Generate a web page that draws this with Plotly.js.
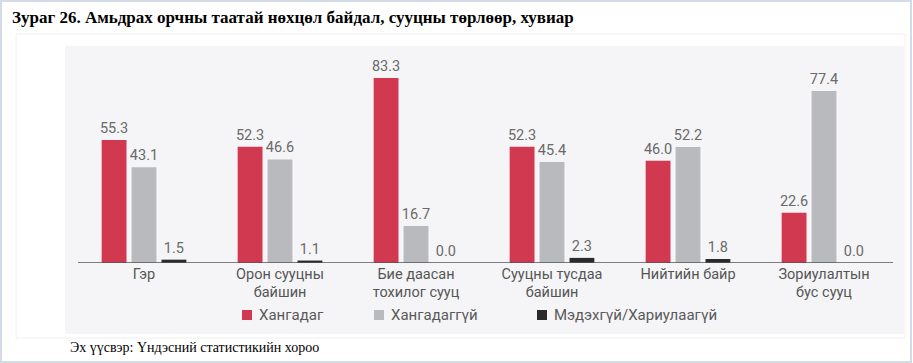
<!DOCTYPE html>
<html>
<head>
<meta charset="utf-8">
<script src="https://cdn.plot.ly/plotly-3.0.1.min.js"></script>
<style>html,body{margin:0;padding:0;background:#fff;}#chart{width:913px;height:363px;}</style>
</head>
<body>
<div id="chart"></div>
<script>
const categories = ["Гэр", "Орон сууцны<br>байшин", "Бие даасан<br>тохилог сууц", "Сууцны тусдаа<br>байшин", "Нийтийн байр", "Зориулалтын<br>бус сууц"];
const seriesNames = ["Хангадаг", "Хангадаггүй", "Мэдэхгүй/Хариулаагүй"];
const satisfied = [55.3, 52.3, 83.3, 52.3, 46.0, 22.6];
const notSatisfied = [43.1, 46.6, 16.7, 45.4, 52.2, 77.4];
const unknown = [1.5, 1.1, 0.0, 2.3, 1.8, 0.0];
const colors = ["#d0394f", "#b9babd", "#2a2a2a"];

const W = 913, H = 363;
const L = 76, R = 892, T = 63, B = 263;
const px = x => (x - L) / (R - L);
const py = y => (B - y) / (B - T);

const traces = [satisfied, notSatisfied, unknown].map((vals, i) => ({
  type: "bar",
  name: seriesNames[i],
  x: categories,
  y: vals,
  marker: {color: colors[i], line: {width: 0}},
  texttemplate: "%{y:.1f}",
  textposition: "outside",
  constraintext: "none",
  textfont: {family: "Roboto", size: 14.5, color: "#6a6a6a"},
  cliponaxis: false,
  hoverinfo: "skip",
  showlegend: false
}));

// legend drawn as shapes + annotations (positions in pixels)
const legendX = [242, 374, 537];
const legendY = 315;
const legendShapes = seriesNames.map((n, i) => ({
  type: "rect", xref: "paper", yref: "paper",
  x0: px(legendX[i]), x1: px(legendX[i] + 10), y0: py(legendY + 5), y1: py(legendY - 5),
  line: {width: 0}, fillcolor: colors[i]
}));
const legendTexts = seriesNames.map((n, i) => ({
  xref: "paper", yref: "paper", x: px(legendX[i] + 15), y: py(legendY), xanchor: "left", yanchor: "middle",
  showarrow: false, text: n, font: {family: "Roboto", size: 15, color: "#5a5a5a"}
}));

const layout = {
  width: W, height: H,
  margin: {l: L, r: W - R, t: T, b: H - B},
  paper_bgcolor: "#ffffff",
  plot_bgcolor: "rgba(0,0,0,0)",
  font: {family: "Roboto", color: "#555"},
  barmode: "group",
  bargap: 0.34,
  bargroupgap: 0.17,
  showlegend: false,
  xaxis: {
    showgrid: false, showline: false, zeroline: false,
    ticks: "", tickfont: {family: "Roboto", size: 14.5, color: "#555"},
    ticklabelstandoff: 0,
    fixedrange: true
  },
  yaxis: {
    range: [0, 90], visible: false, showgrid: false, zeroline: false, fixedrange: true
  },
  shapes: [
    {type: "rect", xref: "paper", yref: "paper", x0: px(1), x1: px(911), y0: py(362), y1: py(1),
     line: {color: "#d3dae8", width: 2}, fillcolor: "rgba(0,0,0,0)", layer: "below"},
    {type: "rect", xref: "paper", yref: "paper", x0: px(16), x1: px(905), y0: py(338), y1: py(34),
     line: {color: "#f0f0f2", width: 1}, fillcolor: "rgba(0,0,0,0)", layer: "below"},
    {type: "rect", xref: "paper", yref: "paper", x0: px(65), x1: px(904), y0: py(334), y1: py(46),
     line: {width: 0}, fillcolor: "#f5f5f7", layer: "below"},
    {type: "line", xref: "paper", yref: "y", x0: px(78), x1: px(893), y0: 0, y1: 0,
     line: {color: "#555555", width: 1.5}, layer: "above"}
  ].concat(legendShapes),
  annotations: [
    {xref: "paper", yref: "paper", x: px(10), y: py(18), xanchor: "left", yanchor: "middle",
     showarrow: false, text: "<b>Зураг 26. Амьдрах орчны таатай нөхцөл байдал, сууцны төрлөөр, хувиар</b>",
     font: {family: "Liberation Serif", size: 17, color: "#000"}},
    {xref: "paper", yref: "paper", x: px(68), y: py(347), xanchor: "left", yanchor: "middle",
     showarrow: false, text: "Эх үүсвэр: Үндэсний статистикийн хороо",
     font: {family: "Liberation Serif", size: 14, color: "#000"}}
  ].concat(legendTexts)
};

Plotly.newPlot("chart", traces, layout, {staticPlot: true, displayModeBar: false});
</script>
</body>
</html>
